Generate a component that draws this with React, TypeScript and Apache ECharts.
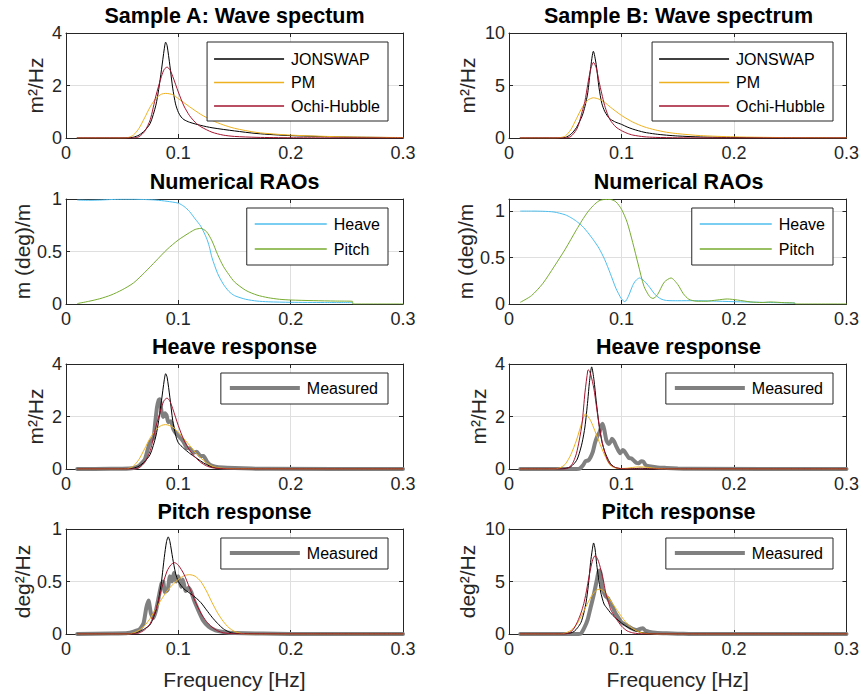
import React, { useEffect, useRef } from 'react';
import * as echarts from 'echarts';

const FONT = '"Liberation Sans", Arial, Helvetica, sans-serif';

// ---------- tick labels ----------
const xTickVals = [0, 0.1, 0.2, 0.3];
const xTickLabels = ['0', '0.1', '0.2', '0.3'];
const yTicks4 = [0, 2, 4];
const yTicks4Labels = ['0', '2', '4'];
const yTicks10 = [0, 5, 10];
const yTicks10Labels = ['0', '5', '10'];
const yTicks1 = [0, 0.5, 1];
const yTicks1Labels = ['0', '0.5', '1'];

// ---------- Sample A: wave spectrum ----------
const A1_jonswap = [[0.01,0],[0.05,0],[0.055,0.005],[0.06,0.03],[0.065,0.11],[0.07,0.28],[0.075,0.56],[0.08,1.25],[0.0825,1.85],[0.085,2.6],[0.0875,3.4],[0.0887,3.65],[0.09,3.52],[0.0925,2.75],[0.095,1.9],[0.0975,1.3],[0.1,0.98],[0.1025,0.8],[0.105,0.7],[0.11,0.6],[0.12,0.48],[0.13,0.39],[0.15,0.27],[0.17,0.17],[0.2,0.09],[0.25,0.035],[0.3,0.015]];
const A1_pm = [[0.01,0],[0.05,0],[0.055,0.015],[0.06,0.11],[0.065,0.37],[0.07,0.77],[0.075,1.19],[0.08,1.51],[0.085,1.67],[0.0887,1.7],[0.095,1.65],[0.1,1.5],[0.11,1.19],[0.12,0.9],[0.13,0.67],[0.14,0.5],[0.15,0.37],[0.17,0.21],[0.2,0.11],[0.25,0.04],[0.3,0.018]];
const A1_ochi = [[0.01,0],[0.06,0],[0.065,0.05],[0.07,0.25],[0.075,0.7],[0.08,1.6],[0.085,2.35],[0.0875,2.62],[0.09,2.7],[0.0925,2.6],[0.095,2.35],[0.1,1.75],[0.105,1.22],[0.11,0.85],[0.115,0.6],[0.12,0.43],[0.13,0.22],[0.14,0.11],[0.15,0.06],[0.17,0.025],[0.2,0.01],[0.3,0]];

// ---------- Sample B: wave spectrum ----------
const B1_jonswap = [[0.01,0],[0.045,0],[0.05,0.05],[0.055,0.35],[0.06,1.0],[0.065,2.1],[0.0675,3.0],[0.07,4.3],[0.0725,6.6],[0.075,8.26],[0.0775,7.0],[0.08,4.8],[0.0825,3.3],[0.085,2.55],[0.0875,2.1],[0.09,1.8],[0.095,1.5],[0.1,1.3],[0.105,1.05],[0.11,0.85],[0.12,0.55],[0.13,0.38],[0.14,0.27],[0.15,0.19],[0.17,0.1],[0.2,0.05],[0.25,0.02],[0.3,0.008]];
const B1_pm = [[0.01,0],[0.04,0],[0.045,0.03],[0.05,0.18],[0.055,0.8],[0.06,1.85],[0.065,2.9],[0.07,3.6],[0.075,3.83],[0.08,3.7],[0.085,3.4],[0.09,2.95],[0.1,2.15],[0.11,1.52],[0.12,1.07],[0.13,0.77],[0.14,0.55],[0.15,0.41],[0.17,0.23],[0.2,0.11],[0.25,0.035],[0.3,0.014]];
const B1_ochi = [[0.01,0],[0.05,0],[0.055,0.15],[0.06,0.8],[0.0625,1.5],[0.065,2.5],[0.0675,3.5],[0.07,5.1],[0.0725,6.5],[0.075,7.2],[0.0775,6.7],[0.08,5.4],[0.0825,4.2],[0.085,3.1],[0.0875,2.3],[0.09,1.7],[0.095,1.05],[0.1,0.7],[0.105,0.45],[0.11,0.28],[0.12,0.12],[0.13,0.06],[0.15,0.02],[0.2,0.005],[0.3,0]];

// ---------- Numerical RAOs ----------
const A2_heave = [[0.0104,0.99],[0.02,0.988],[0.03,0.99],[0.04,0.995],[0.05,0.998],[0.06,0.998],[0.07,0.995],[0.08,0.99],[0.09,0.978],[0.1,0.96],[0.105,0.93],[0.11,0.88],[0.115,0.81],[0.12,0.74],[0.125,0.63],[0.1275,0.55],[0.13,0.44],[0.135,0.29],[0.14,0.19],[0.145,0.12],[0.15,0.08],[0.16,0.045],[0.17,0.028],[0.18,0.021],[0.2,0.016],[0.23,0.014],[0.255,0.013]];
const A2_pitch = [[0.0104,0.005],[0.02,0.025],[0.03,0.05],[0.04,0.085],[0.05,0.135],[0.06,0.2],[0.07,0.3],[0.08,0.41],[0.09,0.52],[0.1,0.61],[0.11,0.68],[0.115,0.71],[0.12,0.72],[0.125,0.69],[0.13,0.6],[0.135,0.47],[0.14,0.36],[0.145,0.28],[0.15,0.21],[0.16,0.13],[0.17,0.085],[0.18,0.06],[0.19,0.045],[0.2,0.038],[0.22,0.032],[0.24,0.028],[0.255,0.026],[0.2555,0],[0.3,0]];
const B2_heave = [[0.0103,1.0],[0.02,1.0],[0.03,0.998],[0.04,0.99],[0.05,0.96],[0.055,0.93],[0.06,0.89],[0.065,0.84],[0.07,0.77],[0.075,0.69],[0.08,0.6],[0.085,0.48],[0.09,0.33],[0.095,0.17],[0.1,0.055],[0.103,0.025],[0.106,0.08],[0.11,0.2],[0.1125,0.25],[0.116,0.28],[0.12,0.25],[0.125,0.18],[0.13,0.1],[0.135,0.055],[0.14,0.038],[0.15,0.035],[0.165,0.036],[0.18,0.032],[0.2,0.025],[0.225,0.018],[0.254,0.01]];
const B2_pitch = [[0.0103,0.02],[0.02,0.09],[0.03,0.22],[0.04,0.4],[0.05,0.59],[0.06,0.8],[0.065,0.9],[0.07,0.99],[0.075,1.06],[0.08,1.11],[0.085,1.125],[0.09,1.125],[0.095,1.1],[0.1,1.02],[0.105,0.88],[0.11,0.66],[0.115,0.42],[0.12,0.19],[0.125,0.08],[0.128,0.06],[0.132,0.1],[0.138,0.235],[0.144,0.28],[0.15,0.21],[0.155,0.11],[0.16,0.05],[0.167,0.03],[0.175,0.03],[0.185,0.043],[0.194,0.054],[0.203,0.043],[0.215,0.022],[0.225,0.016],[0.232,0.022],[0.245,0.014],[0.254,0.01],[0.2545,0],[0.3,0]];

// ---------- Heave response ----------
const A3_measured = [[0.01,0],[0.04,0.005],[0.05,0.01],[0.06,0.04],[0.065,0.12],[0.07,0.35],[0.0725,0.7],[0.0745,1.0],[0.0765,1.12],[0.078,1.2],[0.0795,1.8],[0.081,2.35],[0.0825,2.62],[0.0835,2.66],[0.085,2.2],[0.0865,1.98],[0.088,2.12],[0.0895,2.05],[0.091,1.78],[0.0935,1.82],[0.0955,1.52],[0.098,1.35],[0.1015,1.2],[0.1045,1.04],[0.1075,0.8],[0.1105,0.78],[0.1135,0.62],[0.1165,0.66],[0.1195,0.5],[0.1225,0.5],[0.1255,0.28],[0.1285,0.15],[0.133,0.09],[0.14,0.06],[0.15,0.04],[0.165,0.015],[0.18,0.005],[0.3,0]];
const A3_jonswap = [[0.01,0],[0.05,0],[0.055,0.005],[0.06,0.03],[0.065,0.11],[0.07,0.28],[0.075,0.56],[0.08,1.25],[0.0825,1.85],[0.085,2.6],[0.0875,3.4],[0.0887,3.63],[0.09,3.5],[0.0925,2.72],[0.095,1.85],[0.0975,1.3],[0.1,1.0],[0.105,0.78],[0.11,0.6],[0.115,0.45],[0.12,0.3],[0.125,0.17],[0.13,0.08],[0.135,0.03],[0.14,0.012],[0.15,0.004],[0.2,0.001],[0.3,0]];
const A3_pm = [[0.01,0],[0.05,0],[0.055,0.015],[0.06,0.11],[0.065,0.37],[0.07,0.77],[0.075,1.19],[0.08,1.5],[0.085,1.66],[0.0887,1.69],[0.095,1.6],[0.1,1.4],[0.105,1.15],[0.11,0.9],[0.115,0.64],[0.12,0.42],[0.125,0.24],[0.13,0.11],[0.135,0.05],[0.14,0.025],[0.15,0.01],[0.2,0.002],[0.3,0]];
const A3_ochi = [[0.01,0],[0.06,0],[0.065,0.05],[0.07,0.25],[0.075,0.7],[0.08,1.6],[0.085,2.35],[0.0875,2.62],[0.09,2.7],[0.0925,2.58],[0.095,2.3],[0.1,1.65],[0.105,1.1],[0.11,0.72],[0.115,0.45],[0.12,0.25],[0.125,0.12],[0.13,0.05],[0.14,0.01],[0.15,0],[0.3,0]];
const B3_measured = [[0.01,0],[0.06,0],[0.063,0.02],[0.066,0.15],[0.068,0.3],[0.0705,0.33],[0.0725,0.45],[0.0745,0.65],[0.0765,1.0],[0.0785,1.25],[0.0805,1.4],[0.082,1.65],[0.0832,1.72],[0.0847,1.5],[0.0865,1.1],[0.0885,0.95],[0.0905,1.05],[0.0915,1.15],[0.0935,1.05],[0.0955,0.85],[0.0975,0.68],[0.099,0.6],[0.101,0.72],[0.1025,0.68],[0.1045,0.55],[0.1065,0.42],[0.109,0.4],[0.1115,0.3],[0.1135,0.23],[0.1155,0.22],[0.1175,0.3],[0.1195,0.28],[0.1215,0.15],[0.126,0.1],[0.132,0.06],[0.14,0.04],[0.15,0.015],[0.16,0.005],[0.3,0]];
const B3_jonswap = [[0.01,0],[0.045,0],[0.05,0.02],[0.055,0.09],[0.06,0.32],[0.0625,0.6],[0.065,1.0],[0.0675,1.6],[0.07,2.6],[0.0715,3.3],[0.0735,3.89],[0.0755,3.4],[0.0775,2.6],[0.08,1.7],[0.0825,1.05],[0.085,0.68],[0.0875,0.42],[0.09,0.22],[0.0925,0.11],[0.095,0.05],[0.1,0.015],[0.11,0.01],[0.117,0.03],[0.125,0.01],[0.14,0],[0.3,0]];
const B3_pm = [[0.01,0],[0.04,0],[0.045,0.04],[0.05,0.18],[0.055,0.55],[0.06,1.1],[0.065,1.8],[0.068,2.1],[0.0705,1.98],[0.0725,1.85],[0.075,1.6],[0.08,1.05],[0.085,0.53],[0.09,0.14],[0.095,0.035],[0.1,0.02],[0.105,0.03],[0.11,0.06],[0.115,0.08],[0.12,0.075],[0.125,0.05],[0.13,0.025],[0.14,0.005],[0.15,0],[0.3,0]];
const B3_ochi = [[0.01,0],[0.05,0],[0.055,0.12],[0.0575,0.3],[0.06,0.6],[0.0625,1.1],[0.065,1.75],[0.0675,2.9],[0.07,3.75],[0.0705,3.78],[0.0725,3.62],[0.0755,3.05],[0.0775,2.45],[0.08,1.7],[0.0825,1.1],[0.085,0.65],[0.0875,0.35],[0.09,0.17],[0.095,0.05],[0.1,0.01],[0.11,0],[0.3,0]];

// ---------- Pitch response ----------
const A4_measured = [[0.01,0],[0.04,0.005],[0.055,0.01],[0.065,0.04],[0.069,0.1],[0.0715,0.25],[0.0735,0.32],[0.0755,0.2],[0.0775,0.15],[0.08,0.22],[0.0825,0.35],[0.085,0.48],[0.0865,0.5],[0.088,0.4],[0.0905,0.42],[0.0925,0.55],[0.0945,0.5],[0.096,0.58],[0.098,0.5],[0.1,0.55],[0.1025,0.45],[0.104,0.52],[0.1065,0.41],[0.109,0.44],[0.1115,0.4],[0.114,0.32],[0.118,0.22],[0.122,0.13],[0.127,0.07],[0.133,0.035],[0.14,0.02],[0.15,0.01],[0.2,0],[0.3,0]];
const A4_jonswap = [[0.01,0],[0.055,0],[0.06,0.005],[0.065,0.02],[0.07,0.05],[0.075,0.09],[0.08,0.22],[0.0825,0.33],[0.085,0.5],[0.0875,0.73],[0.0895,0.88],[0.091,0.925],[0.0925,0.88],[0.095,0.72],[0.0975,0.58],[0.1,0.5],[0.105,0.43],[0.11,0.39],[0.115,0.35],[0.12,0.3],[0.125,0.23],[0.13,0.16],[0.135,0.1],[0.14,0.05],[0.145,0.02],[0.15,0.006],[0.2,0],[0.3,0]];
const A4_pm = [[0.01,0],[0.055,0],[0.06,0.01],[0.065,0.035],[0.07,0.08],[0.075,0.15],[0.08,0.24],[0.085,0.33],[0.09,0.41],[0.095,0.47],[0.1,0.52],[0.105,0.555],[0.11,0.565],[0.115,0.55],[0.12,0.5],[0.125,0.41],[0.13,0.3],[0.135,0.2],[0.14,0.12],[0.145,0.06],[0.15,0.025],[0.155,0.008],[0.16,0],[0.3,0]];
const A4_ochi = [[0.01,0],[0.06,0],[0.065,0.01],[0.07,0.04],[0.075,0.1],[0.08,0.23],[0.085,0.43],[0.09,0.6],[0.0935,0.66],[0.0965,0.68],[0.1,0.655],[0.105,0.57],[0.11,0.44],[0.115,0.31],[0.12,0.2],[0.125,0.12],[0.13,0.065],[0.135,0.03],[0.14,0.012],[0.15,0.002],[0.3,0]];
const B4_measured = [[0.01,0],[0.06,0],[0.064,0.05],[0.067,0.6],[0.07,1.4],[0.0725,2.5],[0.0755,3.8],[0.078,5.1],[0.0795,5.9],[0.0805,6.05],[0.0818,5.6],[0.083,4.4],[0.0845,3.9],[0.086,3.6],[0.088,3.4],[0.09,3.0],[0.092,2.6],[0.0945,2.0],[0.0975,1.5],[0.1,1.1],[0.1025,0.95],[0.105,0.8],[0.108,0.6],[0.111,0.45],[0.114,0.38],[0.117,0.5],[0.119,0.55],[0.1215,0.3],[0.125,0.2],[0.13,0.12],[0.14,0.06],[0.15,0.03],[0.16,0.01],[0.3,0]];
const B4_jonswap = [[0.01,0],[0.045,0],[0.05,0.02],[0.055,0.1],[0.058,0.25],[0.061,0.6],[0.064,1.1],[0.0665,2.0],[0.0685,3.0],[0.0705,4.6],[0.0725,6.8],[0.074,8.0],[0.0752,8.67],[0.0765,8.1],[0.078,6.6],[0.0795,5.4],[0.0815,4.0],[0.0845,2.85],[0.0875,2.4],[0.09,2.05],[0.0925,1.75],[0.095,1.5],[0.1,1.05],[0.105,0.68],[0.11,0.4],[0.115,0.22],[0.12,0.1],[0.125,0.04],[0.13,0.015],[0.14,0.005],[0.3,0]];
const B4_pm = [[0.01,0],[0.045,0],[0.05,0.08],[0.0525,0.2],[0.0552,0.35],[0.058,0.65],[0.061,1.05],[0.064,1.65],[0.067,2.3],[0.07,2.95],[0.073,3.55],[0.076,4.0],[0.079,4.25],[0.0815,4.25],[0.084,4.1],[0.0865,3.8],[0.089,3.4],[0.092,2.9],[0.0965,2.2],[0.1,1.65],[0.104,1.1],[0.108,0.68],[0.112,0.38],[0.116,0.18],[0.12,0.07],[0.125,0.02],[0.13,0],[0.3,0]];
const B4_ochi = [[0.01,0],[0.05,0],[0.0525,0.05],[0.055,0.2],[0.058,0.57],[0.061,1.2],[0.064,2.0],[0.0665,2.9],[0.0685,3.9],[0.0705,5.1],[0.0725,6.2],[0.0745,7.1],[0.0765,7.46],[0.0785,7.2],[0.0805,6.6],[0.083,5.5],[0.0845,4.8],[0.086,3.9],[0.0885,3.0],[0.0905,2.3],[0.095,1.5],[0.1,0.75],[0.105,0.3],[0.11,0.11],[0.115,0.04],[0.12,0.01],[0.13,0],[0.3,0]];

// ---------- styles ----------
const COLORS: Record<string, string> = {
  JONSWAP: '#000000',
  PM: '#EDB120',
  'Ochi-Hubble': '#A2142F',
  Heave: '#4DBEEE',
  Pitch: '#77AC30',
  Measured: '#808080',
};

type Panel = {
  title: string; ylabel: string; ymax: number; yint: number; yVals: number[]; yLabels: string[];
  col: number; row: number; nameGap: number; legend: string[];
  series: { name: string; data: number[][] }[];
};

const spectra = (j: number[][], p: number[][], o: number[][]) => [
  { name: 'JONSWAP', data: j }, { name: 'PM', data: p }, { name: 'Ochi-Hubble', data: o },
];

const panels: Panel[] = [
  { title: 'Sample A: Wave spectum', ylabel: 'm²/Hz', ymax: 4, yint: 2, yVals: yTicks4, yLabels: yTicks4Labels, col: 0, row: 0, nameGap: 20,
    legend: ['JONSWAP', 'PM', 'Ochi-Hubble'], series: spectra(A1_jonswap, A1_pm, A1_ochi) },
  { title: 'Sample B: Wave spectrum', ylabel: 'm²/Hz', ymax: 10, yint: 5, yVals: yTicks10, yLabels: yTicks10Labels, col: 1, row: 0, nameGap: 31,
    legend: ['JONSWAP', 'PM', 'Ochi-Hubble'], series: spectra(B1_jonswap, B1_pm, B1_ochi) },
  { title: 'Numerical RAOs', ylabel: 'm (deg)/m', ymax: 1, yint: 0.5, yVals: yTicks1, yLabels: yTicks1Labels, col: 0, row: 1, nameGap: 31,
    legend: ['Heave', 'Pitch'], series: [{ name: 'Heave', data: A2_heave }, { name: 'Pitch', data: A2_pitch }] },
  { title: 'Numerical RAOs', ylabel: 'm (deg)/m', ymax: 1.13, yint: 0.5, yVals: yTicks1, yLabels: yTicks1Labels, col: 1, row: 1, nameGap: 31,
    legend: ['Heave', 'Pitch'], series: [{ name: 'Heave', data: B2_heave }, { name: 'Pitch', data: B2_pitch }] },
  { title: 'Heave response', ylabel: 'm²/Hz', ymax: 4, yint: 2, yVals: yTicks4, yLabels: yTicks4Labels, col: 0, row: 2, nameGap: 20,
    legend: ['Measured'], series: [{ name: 'Measured', data: A3_measured }, ...spectra(A3_jonswap, A3_pm, A3_ochi)] },
  { title: 'Heave response', ylabel: 'm²/Hz', ymax: 4, yint: 2, yVals: yTicks4, yLabels: yTicks4Labels, col: 1, row: 2, nameGap: 20,
    legend: ['Measured'], series: [{ name: 'Measured', data: B3_measured }, ...spectra(B3_jonswap, B3_pm, B3_ochi)] },
  { title: 'Pitch response', ylabel: 'deg²/Hz', ymax: 1, yint: 0.5, yVals: yTicks1, yLabels: yTicks1Labels, col: 0, row: 3, nameGap: 31,
    legend: ['Measured'], series: [{ name: 'Measured', data: A4_measured }, ...spectra(A4_jonswap, A4_pm, A4_ochi)] },
  { title: 'Pitch response', ylabel: 'deg²/Hz', ymax: 10, yint: 5, yVals: yTicks10, yLabels: yTicks10Labels, col: 1, row: 3, nameGap: 31,
    legend: ['Measured'], series: [{ name: 'Measured', data: B4_measured }, ...spectra(B4_jonswap, B4_pm, B4_ochi)] },
];

const colLeft = [66, 509];
const colWidth = [337, 339];
const rowTop = [33, 199, 364, 529];
const plotH = 105;
const W = 862;

const fmt = (vals: number[], labels: string[]) => (v: number) => {
  const i = vals.findIndex((t) => Math.abs(t - v) < 1e-9);
  return i >= 0 ? labels[i] : '';
};

function buildOption() {
  const grid: any[] = [];
  const xAxis: any[] = [];
  const yAxis: any[] = [];
  const series: any[] = [];
  const legend: any[] = [];
  const graphic: any[] = [];
  const n = panels.length;
  const axisLine = { show: true, onZero: false, lineStyle: { color: '#262626', width: 1 } };
  const tick = { show: true, inside: true, length: 4, lineStyle: { color: '#262626' } };

  panels.forEach((p, i) => {
    const left = colLeft[p.col];
    const width = colWidth[p.col];
    const top = rowTop[p.row];
    grid.push({ left, top, width, height: plotH, containLabel: false });
    const isBottomRow = p.row === 3;
    xAxis[i] = {
      type: 'value', gridIndex: i, min: 0, max: 0.3, interval: 0.1, position: 'bottom',
      axisLine, axisTick: tick,
      axisLabel: { show: true, margin: 6, fontSize: 18, color: '#262626', fontFamily: FONT, formatter: fmt(xTickVals, xTickLabels) },
      splitLine: { show: true, lineStyle: { color: '#dfdfdf', width: 1 } },
      name: isBottomRow ? 'Frequency [Hz]' : '', nameLocation: 'middle', nameGap: 35,
      nameTextStyle: { fontSize: 21, color: '#262626', fontFamily: FONT },
    };
    xAxis[n + i] = {
      type: 'value', gridIndex: i, min: 0, max: 0.3, interval: 0.1, position: 'top',
      axisLine, axisTick: tick, axisLabel: { show: false }, splitLine: { show: false },
    };
    yAxis[i] = {
      type: 'value', gridIndex: i, min: 0, max: p.ymax, interval: p.yint, position: 'left',
      axisLine, axisTick: tick,
      axisLabel: { show: true, margin: 4, fontSize: 18, color: '#262626', fontFamily: FONT, formatter: fmt(p.yVals, p.yLabels) },
      splitLine: { show: true, lineStyle: { color: '#dfdfdf', width: 1 } },
      name: p.ylabel, nameLocation: 'middle', nameRotate: 90, nameGap: p.nameGap,
      nameTextStyle: { fontSize: 21, color: '#262626', fontFamily: FONT },
    };
    yAxis[n + i] = {
      type: 'value', gridIndex: i, min: 0, max: p.ymax, interval: p.yint, position: 'right',
      axisLine, axisTick: tick, axisLabel: { show: false }, splitLine: { show: false },
    };

    p.series.forEach((s) => {
      const measured = s.name === 'Measured';
      series.push({
        type: 'line', name: s.name, xAxisIndex: i, yAxisIndex: i, data: s.data,
        symbol: 'none', showSymbol: false, smooth: measured ? 0.15 : 0.25,
        lineStyle: { color: COLORS[s.name], width: measured ? 4 : 1, cap: 'round', join: 'round' },
        itemStyle: { color: COLORS[s.name] },
        z: measured ? 2 : 3,
      });
    });

    const nItems = p.legend.length;
    const rightDist = W - (left + width) + 15;
    legend.push({
      data: p.legend.map((name) => ({ name, icon: 'rect', itemStyle: { color: COLORS[name], borderWidth: 0 } })),
      orient: 'vertical', right: rightDist, top: top + 9,
      itemWidth: nItems === 2 ? 72 : 70, itemHeight: nItems === 1 ? 4 : 1.3,
      itemGap: nItems === 3 ? 7.5 : 9,
      padding: nItems === 3 ? [9, 8, 7, 7] : nItems === 2 ? [8, 8, 8, 8] : [7, 10, 8, 9],
      backgroundColor: '#ffffff', borderColor: '#262626', borderWidth: 1, borderRadius: 0,
      selectedMode: false,
      textStyle: { fontSize: 16, color: '#000000', fontFamily: FONT, padding: [0, 0, 0, 2] },
      z: 10,
    });

    graphic.push({
      type: 'text', x: left + width / 2, y: top - 28, z: 100,
      style: { text: p.title, fill: '#000000', fontSize: 21.5, fontWeight: 'bold', fontFamily: FONT, align: 'center', verticalAlign: 'top' },
    });
  });

  return {
    animation: false,
    backgroundColor: '#ffffff',
    textStyle: { fontFamily: FONT },
    grid, xAxis, yAxis, series, legend, graphic,
  };
}

export default function App() {
  const ref = useRef<HTMLDivElement>(null);
  useEffect(() => {
    if (!ref.current) return;
    const chart = echarts.init(ref.current, undefined, { renderer: 'svg' });
    chart.setOption(buildOption() as any);
    return () => chart.dispose();
  }, []);
  return <div ref={ref} style={{ position: 'absolute', left: 0, top: 0, width: 862, height: 697 }} />;
}
